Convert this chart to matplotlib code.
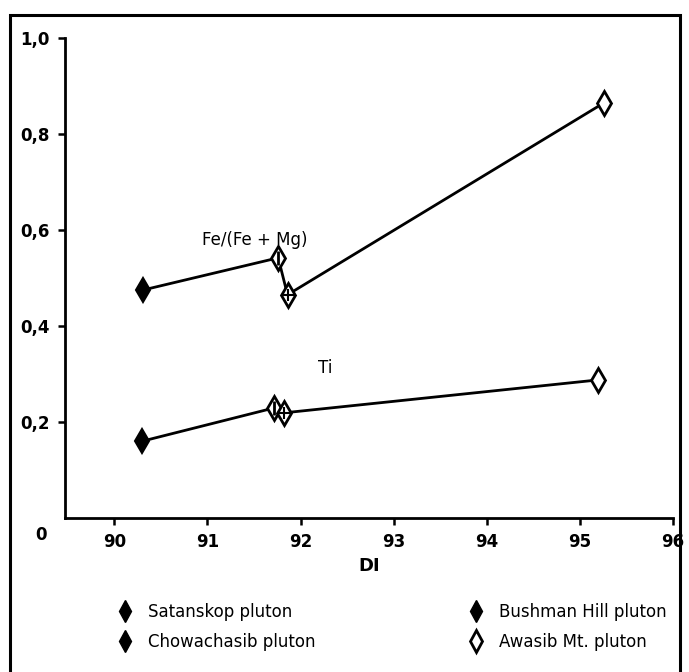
import matplotlib.pyplot as plt
from matplotlib.lines import Line2D
from matplotlib.patches import Rectangle

plt.rcParams['font.family'] = ['DejaVu Sans']

# plutons: Satanskop, Bushman Hill, Chowachasib, Awasib Mt.
plutons = ['Satanskop pluton', 'Bushman Hill pluton', 'Chowachasib pluton', 'Awasib Mt. pluton']
di_fe = [90.31, 91.76, 91.86, 95.26]
fe_ratio = [0.475, 0.542, 0.465, 0.865]
di_ti = [90.30, 91.71, 91.82, 95.19]
ti = [0.16, 0.229, 0.219, 0.2875]

xticks = [90, 91, 92, 93, 94, 95, 96]
yticks = [0.2, 0.4, 0.6, 0.8, 1.0]
ytick_labels = ['0,2', '0,4', '0,6', '0,8', '1,0']

fig = plt.figure(figsize=(6.89, 6.72), dpi=100)
ax = fig.add_axes([0.0943, 0.2292, 0.8825, 0.7143])

# outer frame
fig.patches.append(Rectangle((0.0145, -0.02), 0.9725, 0.9977, transform=fig.transFigure,
                             fill=False, lw=2.2, color='black'))


def draw_series(xs, ys):
    ax.plot(xs, ys, color='black', lw=2.0, zorder=2)
    # Satanskop: filled
    ax.plot(xs[0], ys[0], marker='d', ms=12, mfc='black', mec='black', mew=1.5, zorder=3)
    # Bushman Hill: open with vertical bar
    ax.plot(xs[1], ys[1], marker='d', ms=12, mfc='white', mec='black', mew=2.0, zorder=3)
    ax.plot(xs[1], ys[1], marker='|', ms=10, mec='black', mew=2.0, zorder=4)
    # Chowachasib: open with cross
    ax.plot(xs[2], ys[2], marker='d', ms=12, mfc='white', mec='black', mew=2.0, zorder=3)
    ax.plot(xs[2], ys[2], marker='+', ms=8, mec='black', mew=1.5, zorder=4)
    # Awasib: open
    ax.plot(xs[3], ys[3], marker='d', ms=12, mfc='white', mec='black', mew=2.0, zorder=3)


draw_series(di_fe, fe_ratio)
draw_series(di_ti, ti)

ax.text(91.51, 0.579, 'Fe/(Fe + Mg)', fontsize=12, ha='center', va='center')
ax.text(92.26, 0.3125, 'Ti', fontsize=12, ha='center', va='center')

ax.set_xlim(89.47, 96)
ax.set_ylim(0, 1.0)
ax.spines['top'].set_visible(False)
ax.spines['right'].set_visible(False)
ax.spines['left'].set_linewidth(2.0)
ax.spines['bottom'].set_linewidth(2.0)
ax.set_xticks(xticks)
ax.set_xticklabels([str(t) for t in xticks])
ax.set_yticks(yticks)
ax.set_yticklabels(ytick_labels)
ax.tick_params(axis='both', direction='out', length=5, width=1.8, labelsize=12, pad=6)
for lab in ax.get_xticklabels() + ax.get_yticklabels():
    lab.set_fontweight('bold')
ax.text(-0.04, -0.035, '0', transform=ax.transAxes, fontsize=12, fontweight='bold',
        ha='center', va='center')
ax.set_xlabel('DI', fontsize=13, fontweight='bold', labelpad=4)

# legend
handles = [
    Line2D([], [], ls='none', marker='d', ms=11, mfc='black', mec='black'),
    Line2D([], [], ls='none', marker='d', ms=11, mfc='black', mec='black'),
    Line2D([], [], ls='none', marker='d', ms=11, mfc='black', mec='black'),
    Line2D([], [], ls='none', marker='d', ms=11, mfc='white', mec='black', mew=2),
]
order = [0, 2, 1, 3]
fig.legend([handles[i] for i in order], [plutons[i] for i in order], ncol=2,
           loc='upper left', bbox_to_anchor=(0.145, 0.125), frameon=False,
           fontsize=12, columnspacing=9.0, handletextpad=0.8, labelspacing=0.7,
           handlelength=1.2)

fig.savefig('out.png', dpi=100)
